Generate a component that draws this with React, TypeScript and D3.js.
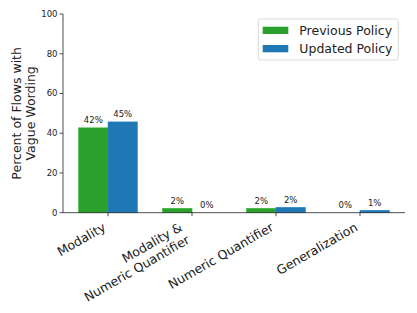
import React from "react";
import * as d3 from "d3";

const categories = ["Modality", "Modality &\nNumeric Quantifier", "Numeric Quantifier", "Generalization"];
const previousPolicy = [42.7, 2.2, 2.2, 0];
const updatedPolicy = [45.7, 0, 2.7, 1.2];
const seriesNames = ["Previous Policy", "Updated Policy"];
const seriesColors = ["#2ca02c", "#1f77b4"];
const yTicks = [0, 20, 40, 60, 80, 100];

const W = 417, H = 313;
const left = 63, right = 405, top = 14, bottom = 212.7;
const FONT = "DejaVu Sans, sans-serif";
const XFS = 12.5;
const LINE = XFS * 1.17;
const DESC = XFS * 0.236;
const ASC = XFS * 0.928;

export default function App() {
  const x = d3.scalePoint<string>().domain(categories).range([left, right]).padding(0.536);
  const y = d3.scaleLinear().domain([0, 100]).range([bottom, top]);
  const step = x.step();
  const bw = step * 0.35;
  const series = [previousPolicy, updatedPolicy];
  const c30 = Math.cos(Math.PI / 6);

  return (
    <svg width={W} height={H} style={{ position: "absolute", left: 0, top: 0, fontFamily: FONT }}>
      <rect width={W} height={H} fill="white" />
      {series.map((vals, si) =>
        vals.map((v, i) => {
          const cx = x(categories[i])!;
          const x0 = si === 0 ? cx - bw : cx;
          return (
            <g key={`${si}-${i}`}>
              <rect x={x0} y={y(v)} width={bw} height={bottom - y(v)} fill={seriesColors[si]}
                stroke={d3.color(seriesColors[si])!.brighter(0.4).toString()} strokeWidth={0.6} />
              <text x={x0 + bw / 2} y={y(v) - 4.5} textAnchor="middle" fontSize={8.5} fill="#222">
                {Math.floor(v)}%
              </text>
            </g>
          );
        })
      )}
      <line x1={left} x2={left} y1={top} y2={bottom} stroke="#222" strokeWidth={0.8} />
      <line x1={left} x2={right} y1={bottom} y2={bottom} stroke="#222" strokeWidth={0.8} />
      {yTicks.map((t) => (
        <g key={t}>
          <line x1={left - 3.5} x2={left} y1={y(t)} y2={y(t)} stroke="#222" strokeWidth={0.8} />
          <text x={left - 5.5} y={y(t)} dy="0.35em" textAnchor="end" fontSize={8.5} fill="#222">{t}</text>
        </g>
      ))}
      {categories.map((c) => {
        const cx = x(c)!;
        const lines = c.split("\n");
        const n = lines.length;
        const h = ASC + DESC + (n - 1) * LINE;
        const ay = bottom + 7 + c30 * h;
        return (
          <g key={c}>
            <line x1={cx} x2={cx} y1={bottom} y2={bottom + 3.5} stroke="#222" strokeWidth={0.8} />
            <text transform={`translate(${cx},${ay}) rotate(-30)`} textAnchor="end" fontSize={XFS} fill="#222">
              {lines.map((l, li) => (
                <tspan key={li} x={0} y={-DESC - (n - 1 - li) * LINE}>{l}</tspan>
              ))}
            </text>
          </g>
        );
      })}
      <text transform={`translate(21,${(top + bottom) / 2}) rotate(-90)`} textAnchor="middle" fontSize={12.5} fill="#222">
        <tspan x={0} y={0}>Percent of Flows with</tspan>
        <tspan x={0} y={14}>Vague Wording</tspan>
      </text>
      <rect x={258.3} y={19} width={140} height={41} rx={2.5} fill="white" stroke="#d0d0d0" strokeWidth={0.8} />
      {seriesNames.map((nm, i) => (
        <g key={nm}>
          <rect x={262.7} y={26.7 + i * 18.3} width={25.6} height={7.3} fill={seriesColors[i]} />
          <text x={299.3} y={30.4 + i * 18.3} dy="0.36em" fontSize={12.5} fill="#222">{nm}</text>
        </g>
      ))}
    </svg>
  );
}
